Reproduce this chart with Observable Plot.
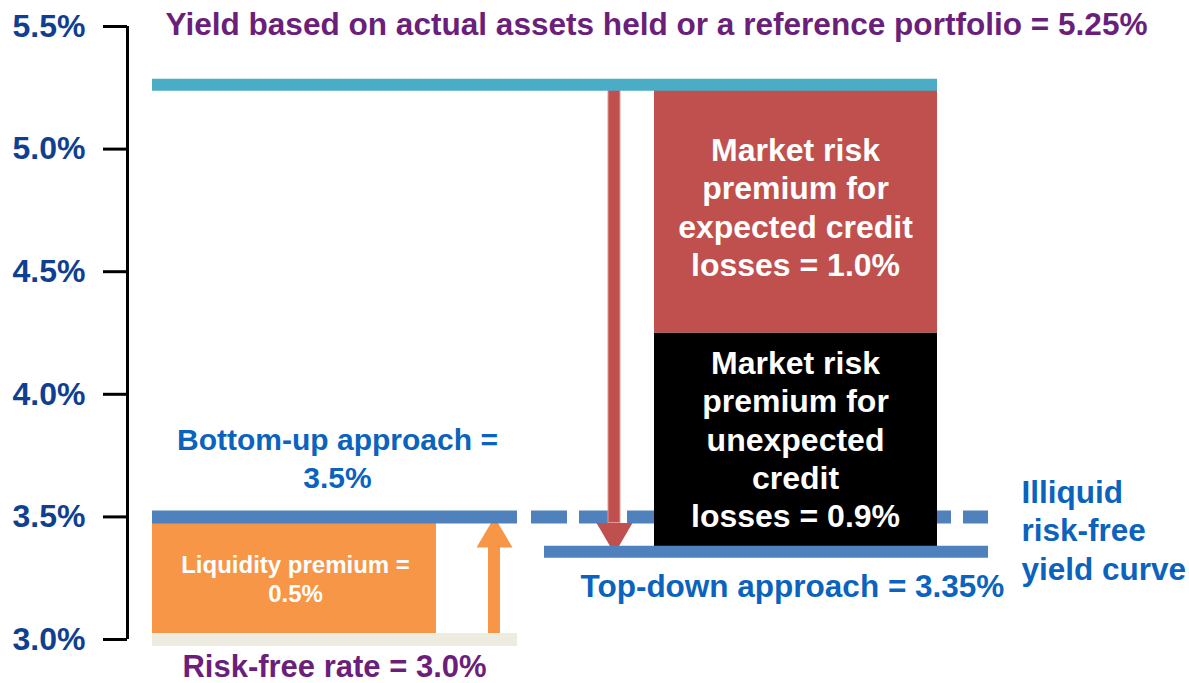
<!DOCTYPE html>
<html><head><meta charset="utf-8">
<script src="https://cdn.jsdelivr.net/npm/d3@7"></script>
<script src="https://cdn.jsdelivr.net/npm/@observablehq/plot@0.6"></script>
<style>body{margin:0;background:#fff}</style>
</head><body><div id="chart"></div>
<script>
// ---- values (percent) ----
const yTicks = [3.0, 3.5, 4.0, 4.5, 5.0, 5.5];
const riskFreeRate = 3.0;
const liquidityPremium = 0.5;
const portfolioYield = 5.25;
const expectedLossPremium = 1.0;
const unexpectedLossPremium = 0.9;
const bottomUp = riskFreeRate + liquidityPremium;                                   // 3.5
const topDown = +(portfolioYield - expectedLossPremium - unexpectedLossPremium).toFixed(2); // 3.35

// ---- texts ----
const titleText = "Yield based on actual assets held or a reference portfolio = 5.25%";
const expectedText = "Market risk\npremium for\nexpected credit\nlosses = 1.0%";
const unexpectedText = "Market risk\npremium for\nunexpected\ncredit\nlosses = 0.9%";
const bottomUpText = "Bottom-up approach =\n3.5%";
const liquidityText = "Liquidity premium =\n0.5%";
const riskFreeText = "Risk-free rate = 3.0%";
const topDownText = "Top-down approach = 3.35%";
const curveText = "Illiquid\nrisk-free\nyield curve";

// ---- layout (horizontal positions in px, styles) ----
const X = {axis:127, left:152, orangeEnd:436, upArrow:494, solidEnd:517, dashStart:531,
  downArrow:614, topDownStart:544, boxL:654, boxR:937, lineEnd:988,
  titleC:656, bottomUpC:337, liquidityC:295, riskFreeC:334, boxC:795, topDownL:580, curveL:1021};
const C = {navy:"#103f91", blue:"#0b63bd", purple:"#6b1f7b", line:"#4f81bd", cyan:"#4bacc6",
  red:"#c0504d", orange:"#f79646", beige:"#eeece1"};
const shaftHalf = 6, headHalf = 18, headLen = 0.125;

const redShaft = [{x1:X.downArrow-shaftHalf, x2:X.downArrow+shaftHalf, y1:topDown+headLen, y2:portfolioYield}];
const redHead = [{x:X.downArrow-headHalf, y:topDown+headLen},{x:X.downArrow+headHalf, y:topDown+headLen},{x:X.downArrow, y:topDown},{x:X.downArrow-headHalf, y:topDown+headLen}];
const orangeShaft = [{x1:X.upArrow-shaftHalf, x2:X.upArrow+shaftHalf, y1:riskFreeRate, y2:bottomUp-headLen}];
const orangeHead = [{x:X.upArrow-headHalf, y:bottomUp-headLen},{x:X.upArrow+headHalf, y:bottomUp-headLen},{x:X.upArrow, y:bottomUp},{x:X.upArrow-headHalf, y:bottomUp-headLen}];

const font = "Liberation Sans, Arial, Helvetica, sans-serif";
const bold = {fontWeight:"bold", fontFamily:font};

const chart = Plot.plot({
  width:1189, height:683,
  marginLeft:X.axis, marginTop:0, marginRight:0, marginBottom:0,
  x:{domain:[0,1189], range:[0,1189], axis:null},
  y:{domain:[3,5.5], range:[639,26], axis:null},
  style:{fontFamily:font, background:"#fff", overflow:"visible"},
  marks:[
    Plot.rect([0], {x1:X.left, x2:X.orangeEnd, y1:riskFreeRate, y2:bottomUp, fill:C.orange}),
    Plot.rect(orangeShaft, {x1:"x1", x2:"x2", y1:"y1", y2:"y2", fill:C.orange}),
    Plot.line(orangeHead, {x:"x", y:"y", fill:C.orange, stroke:"none"}),
    Plot.ruleY([riskFreeRate], {x1:X.left, x2:X.solidEnd, stroke:C.beige, strokeWidth:13}),
    Plot.ruleY([bottomUp], {x1:X.left, x2:X.solidEnd, stroke:C.line, strokeWidth:13}),
    Plot.ruleY([bottomUp], {x1:X.dashStart, x2:X.lineEnd, stroke:C.line, strokeWidth:13, strokeDasharray:"36,12"}),
    Plot.rect([0], {x1:X.boxL, x2:X.boxR, y1:topDown, y2:portfolioYield-expectedLossPremium, fill:"#000"}),
    Plot.rect([0], {x1:X.boxL, x2:X.boxR, y1:portfolioYield-expectedLossPremium, y2:portfolioYield, fill:C.red}),
    Plot.rect(redShaft, {x1:"x1", x2:"x2", y1:"y1", y2:"y2", fill:C.red, stroke:"#e39a98", strokeWidth:1}),
    Plot.line(redHead, {x:"x", y:"y", fill:C.red, stroke:"none"}),
    Plot.ruleY([portfolioYield], {x1:X.left, x2:X.boxR, stroke:C.cyan, strokeWidth:12, dy:-3}),
    Plot.ruleY([topDown], {x1:X.topDownStart, x2:X.lineEnd, stroke:C.line, strokeWidth:12, dy:-2}),
    // axis
    Plot.ruleX([X.axis], {y1:3, y2:5.5, stroke:"#000", strokeWidth:3}),
    Plot.axisY(yTicks, {anchor:"left", tickSize:24, tickPadding:18, tickFormat:d => d.toFixed(1) + "%",
      fontSize:32, fontWeight:"bold", fill:C.navy, stroke:"#000", strokeWidth:3}),
    // texts
    Plot.text([titleText], {text:d=>d, x:X.titleC, y:portfolioYield, dy:-63, fontSize:31, fill:C.purple,
      fontWeight:"bold", fontFamily:"Liberation Sans Narrow, Arial Narrow, "+font, className:"ttl"}),
    Plot.text([expectedText], {text:d=>d, x:X.boxC, y:portfolioYield-expectedLossPremium/2, dy:-4, fontSize:32, lineHeight:1.2, fill:"#fff", ...bold}),
    Plot.text([unexpectedText], {text:d=>d, x:X.boxC, y:topDown+unexpectedLossPremium/2, dy:-5, fontSize:32, lineHeight:1.2, fill:"#fff", ...bold}),
    Plot.text([liquidityText], {text:d=>d, x:X.liquidityC, y:riskFreeRate+liquidityPremium/2, fontSize:24, lineHeight:1.2, fill:"#fff", ...bold}),
    Plot.text([bottomUpText], {text:d=>d, x:X.bottomUpC, y:bottomUp, dy:-60, fontSize:30, lineHeight:1.28, fill:C.blue, ...bold}),
    Plot.text([riskFreeText], {text:d=>d, x:X.riskFreeC, y:riskFreeRate, dy:28, fontSize:31, fill:C.purple, ...bold}),
    Plot.text([topDownText], {text:d=>d, x:X.topDownL, y:topDown, dy:33, fontSize:31.5, textAnchor:"start", fill:C.blue, ...bold}),
    Plot.text([curveText], {text:d=>d, x:X.curveL, y:bottomUp, dy:12, fontSize:31.5, lineHeight:1.22, textAnchor:"start", fill:C.blue, ...bold})
  ]
});
document.getElementById("chart").appendChild(chart);
// fit the condensed title to its width in the reference
const t = chart.querySelector(".ttl text");
if (t) { t.setAttribute("textLength", 982); t.setAttribute("lengthAdjust", "spacingAndGlyphs"); }
</script>
</body></html>
